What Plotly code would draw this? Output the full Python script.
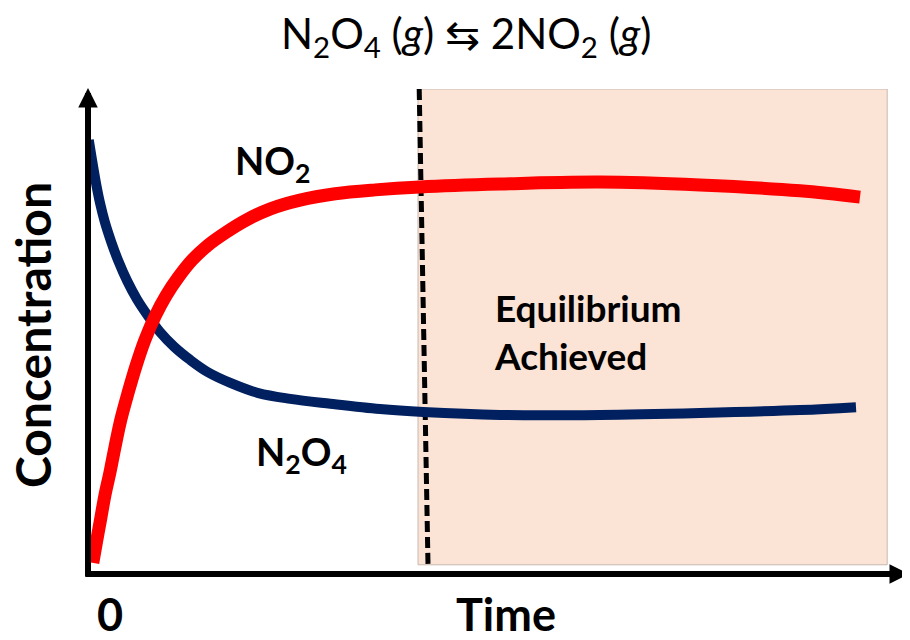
import plotly.graph_objects as go


# ==========================================
# DATA (time vs concentration, arbitrary units)
# ==========================================

no2_time = [0.06, 0.11, 0.16, 0.21, 0.28, 0.34, 0.41, 0.50, 0.60, 0.71,
            0.84, 0.98, 1.13, 1.30, 1.50, 1.73, 1.98, 2.28, 2.65, 3.09,
            3.59, 4.15, 5.15, 6.40, 7.65, 8.90, 9.65]
no2_conc = [0.23, 0.70, 1.15, 1.61, 2.14, 2.64, 3.18, 3.73, 4.29, 4.82,
            5.32, 5.75, 6.12, 6.47, 6.78, 7.05, 7.30, 7.53, 7.71, 7.84,
            7.92, 7.98, 8.04, 8.08, 8.02, 7.90, 7.77]

n2o4_time = [0.01, 0.05, 0.10, 0.15, 0.21, 0.29, 0.38, 0.49, 0.61, 0.75,
             0.90, 1.08, 1.28, 1.50, 1.78, 2.13, 2.53, 3.03, 3.65, 4.19,
             5.15, 6.40, 7.65, 8.90, 9.60]
n2o4_conc = [8.95, 8.54, 8.06, 7.65, 7.26, 6.85, 6.45, 6.04, 5.67, 5.32,
             4.99, 4.68, 4.41, 4.16, 3.94, 3.73, 3.61, 3.51, 3.40, 3.34,
             3.28, 3.28, 3.32, 3.38, 3.44]

# equilibrium window
eq_start = 4.125
eq_end = 9.99
eq_line_time = [4.14, 4.25]
eq_line_conc = [10.0, 0.19]

FONT = "Lato"
RED = "#FF0000"
NAVY = "#002060"

# page body has an 8px margin, so the figure is drawn 8px smaller
PAGE_OFFSET = 8


# ==========================================
# FIGURE
# ==========================================

fig = go.Figure()

fig.add_shape(
    type="rect",
    x0=eq_start, x1=eq_end,
    y0=0.19, y1=10.0,
    fillcolor="#FBE4D6",
    line=dict(color="#C8B8AE", width=1),
    layer="below"
)

fig.add_trace(
    go.Scatter(
        x=eq_line_time,
        y=eq_line_conc,
        mode="lines",
        line=dict(color="black", width=5, dash="11px,5px"),
        hoverinfo="skip"
    )
)

fig.add_trace(
    go.Scatter(
        x=n2o4_time,
        y=n2o4_conc,
        mode="lines",
        name="N2O4",
        line=dict(color=NAVY, width=10, shape="spline", smoothing=1)
    )
)

fig.add_trace(
    go.Scatter(
        x=no2_time,
        y=no2_conc,
        mode="lines",
        name="NO2",
        line=dict(color=RED, width=13, shape="spline", smoothing=1)
    )
)

# axis arrows
fig.add_annotation(
    x=0, y=1.002, xref="paper", yref="paper",
    ax=0, ay=490, text="", showarrow=True,
    arrowhead=2, arrowsize=0.65, arrowwidth=6, arrowcolor="black"
)
fig.add_annotation(
    x=1.04, y=0, xref="paper", yref="paper",
    ax=-836, ay=0, text="", showarrow=True,
    arrowhead=2, arrowsize=0.65, arrowwidth=6, arrowcolor="black"
)

# ==========================================
# TEXT
# ==========================================

labels = [
    dict(text="N<sub>2</sub>O<sub>4</sub> (<i>g</i>) \u21c6 2NO<sub>2</sub> (<i>g</i>)",
         x=466, y=36, size=42, weight="normal", xanchor="center", angle=0),
    dict(text="NO<sub>2</sub>", x=272, y=163, size=38, weight="bold",
         xanchor="center", angle=0),
    dict(text="N<sub>2</sub>O<sub>4</sub>", x=301, y=454, size=38,
         weight="bold", xanchor="center", angle=0),
    dict(text="Equilibrium<br>Achieved", x=492, y=331, size=37,
         weight="bold", xanchor="left", angle=0),
    dict(text="Concentration", x=32, y=335, size=48, weight="bold",
         xanchor="center", angle=-90),
    dict(text="Time", x=506, y=614, size=45, weight="bold",
         xanchor="center", angle=0),
    dict(text="0", x=110, y=614, size=45, weight="bold",
         xanchor="center", angle=0),
]

for lab in labels:
    fig.add_annotation(
        text=lab["text"],
        x=(lab["x"] - 88) / 800,
        y=(574 - lab["y"]) / 485,
        xref="paper", yref="paper",
        xanchor=lab["xanchor"], yanchor="middle",
        textangle=lab["angle"],
        align="left",
        showarrow=False,
        font=dict(family=FONT, size=lab["size"], color="black",
                  weight=lab["weight"])
    )

fig.update_layout(
    width=910 - PAGE_OFFSET,
    height=640 - PAGE_OFFSET,
    margin=dict(l=88 - PAGE_OFFSET, r=22, t=89 - PAGE_OFFSET, b=66),
    paper_bgcolor="white",
    plot_bgcolor="white",
    showlegend=False,
    xaxis=dict(range=[0, 10], visible=False, fixedrange=True),
    yaxis=dict(range=[0, 10], visible=False, fixedrange=True)
)

fig.write_html("out.html")
